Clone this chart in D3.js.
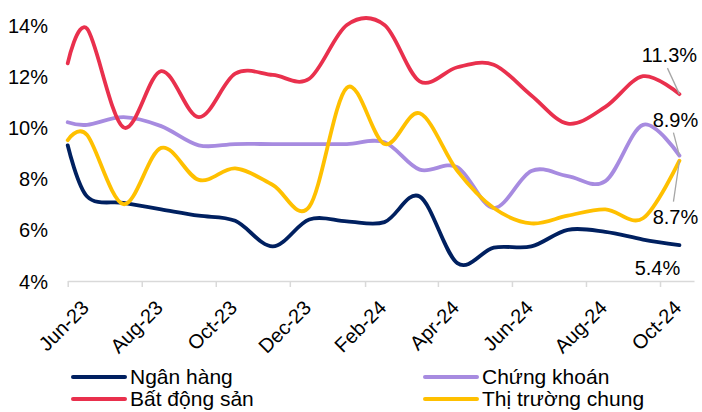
<!DOCTYPE html>
<html>
<head>
<meta charset="utf-8">
<script src="https://cdn.jsdelivr.net/npm/d3@7"></script>
<style>
  html, body { margin: 0; padding: 0; background: #fff; }
  svg { display: block; }
  text { font-family: "Liberation Sans", Arial, sans-serif; fill: #000; }
</style>
</head>
<body>
<svg id="chart" width="702" height="412"></svg>
<script>
// ---- data ----
const dates = ["2023-06-01","2023-06-17","2023-07-17","2023-08-17","2023-09-17","2023-10-17",
  "2023-11-17","2023-12-17","2024-01-17","2024-02-17","2024-03-17","2024-04-17",
  "2024-05-17","2024-06-17","2024-07-17","2024-08-17","2024-09-17","2024-10-17"];
const nganHang   = [9.3, 7.3, 7.05, 6.8, 6.55, 6.35, 5.35, 6.4, 6.33, 6.3, 7.3, 4.7, 5.3, 5.35, 6.0, 5.92, 5.62, 5.4];
const chungKhoan = [10.2, 10.1, 10.4, 10.05, 9.3, 9.35, 9.35, 9.35, 9.35, 9.42, 8.35, 8.45, 6.85, 8.3, 8.1, 7.9, 10.1, 8.9];
const batDongSan = [12.5, 13.85, 10.0, 12.2, 10.4, 12.1, 12.05, 11.9, 14.0, 14.0, 11.8, 12.35, 12.45, 11.25, 10.15, 10.8, 12.0, 11.3];
const thiTruong  = [9.5, 9.7, 7.0, 9.2, 7.95, 8.4, 7.75, 6.9, 11.55, 9.35, 10.55, 8.3, 6.85, 6.25, 6.55, 6.8, 6.45, 8.7];
const seriesNames = ["Ngân hàng", "Chứng khoán", "Bất động sản", "Thị trường chung"];
const xTickLabels = ["Jun-23","Aug-23","Oct-23","Dec-23","Feb-24","Apr-24","Jun-24","Aug-24","Oct-24"];
const yTicks = [4, 6, 8, 10, 12, 14];
const xDomain = ["2023-06-01", "2024-10-29"];

// ---- styles ----
const colors = ["#002060", "#A78BE0", "#E9304D", "#FFC000"];
const labelOffsets = [ // end-label placement relative to last point: [dx, dy, leader]
  [-22, 30, false],
  [-4, -29, true],
  [-10, -32, true],
  [-4, 63, true]
];

const parse = d3.timeParse("%Y-%m-%d");
const parseTick = d3.timeParse("%b-%y");
const seriesVals = [nganHang, chungKhoan, batDongSan, thiTruong];
const series = seriesNames.map((name, i) => ({
  name, color: colors[i], off: labelOffsets[i],
  values: dates.map((d, j) => ({ date: parse(d), v: seriesVals[i][j] }))
}));

const svg = d3.select("#chart");
const x = d3.scaleTime().domain(xDomain.map(parse)).range([67.7, 694]);
const y = d3.scaleLinear().domain([4, 14]).range([281, 25]);

// x axis
const xAxis = d3.axisBottom(x)
  .tickValues(xTickLabels.map(parseTick))
  .tickFormat(d3.timeFormat("%b-%y"))
  .tickSizeInner(6).tickSizeOuter(0);
const gx = svg.append("g").attr("transform", `translate(0,${y(4)})`).call(xAxis);
gx.select(".domain").attr("stroke", "#D9D9D9").attr("stroke-width", 1.5);
gx.selectAll(".tick line").attr("stroke", "#D9D9D9").attr("stroke-width", 1.5);
gx.selectAll(".tick text")
  .attr("font-size", 20).attr("fill", "#000")
  .attr("text-anchor", "end")
  .attr("x", 0).attr("y", 0).attr("dy", 0)
  .attr("transform", "translate(22,28) rotate(-45)");

// y axis
const yAxis = d3.axisLeft(y).tickValues(yTicks).tickFormat(d => d + "%").tickSize(0).tickPadding(0);
const gy = svg.append("g").attr("transform", "translate(48,0)").call(yAxis);
gy.select(".domain").remove();
gy.selectAll(".tick text").attr("font-size", 20).attr("fill", "#000").attr("dy", "0.35em");

// lines
const line = d3.line().x(d => x(d.date)).y(d => y(d.v)).curve(d3.curveCardinal.tension(0));
svg.append("g").selectAll("path").data(series).join("path")
  .attr("d", d => line(d.values))
  .attr("fill", "none")
  .attr("stroke", d => d.color)
  .attr("stroke-width", 3.8)
  .attr("stroke-linecap", "round")
  .attr("stroke-linejoin", "round");

// end labels
const fmt = d3.format(".1f");
const gl = svg.append("g");
series.forEach(s => {
  const last = s.values[s.values.length - 1];
  const px = x(last.date), py = y(last.v);
  const [dx, dy, leader] = s.off;
  const tx = px + dx, ty = py + dy;
  if (leader) {
    const ly = dy < 0 ? ty + 6 : ty - 22;
    gl.append("line")
      .attr("x1", px).attr("y1", py)
      .attr("x2", tx - 2).attr("y2", ly)
      .attr("stroke", "#A6A6A6").attr("stroke-width", 1.3);
  }
  gl.append("text").attr("x", tx).attr("y", ty)
    .attr("text-anchor", "middle").attr("font-size", 20)
    .text(fmt(last.v) + "%");
});

// legend
const legendPos = [[73, 377], [425, 377], [73, 399], [425, 399]];
const lg = svg.append("g");
series.forEach((s, i) => {
  const [lx, ly] = legendPos[i];
  lg.append("line").attr("x1", lx).attr("x2", lx + 52).attr("y1", ly).attr("y2", ly)
    .attr("stroke", s.color).attr("stroke-width", 4).attr("stroke-linecap", "round");
  lg.append("text").attr("x", lx + 57).attr("y", ly).attr("dy", "0.35em")
    .attr("font-size", 21).text(s.name);
});
</script>
</body>
</html>
